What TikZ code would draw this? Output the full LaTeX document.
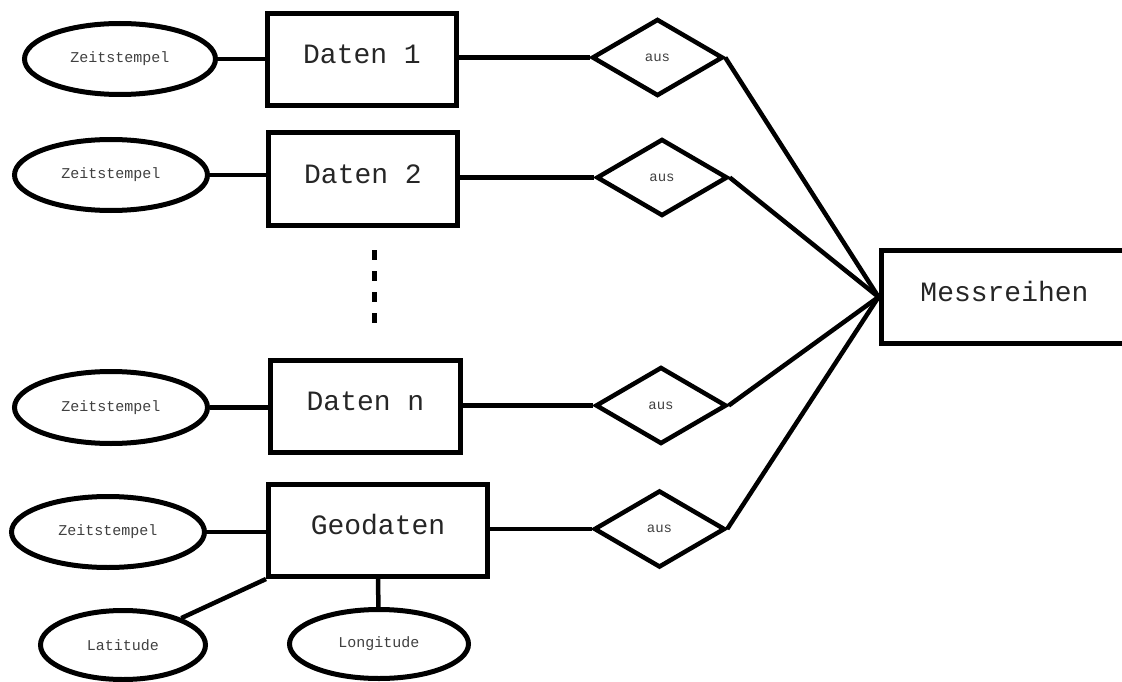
\documentclass[tikz,border=0pt]{standalone}
\usepackage{fontspec}
\setmainfont{Liberation Mono}
\usetikzlibrary{shapes.geometric}
\tikzset{
  ent/.style={draw, rectangle, line width=5pt, inner sep=0pt, font=\fontsize{28}{30}\selectfont, text=black!85,
    text height=17pt, text depth=9pt, minimum height=92pt},
  attr/.style={draw, ellipse, line width=5pt, inner sep=0pt, font=\fontsize{15}{16}\selectfont, text=black!75},
  rel/.style={draw, diamond, line width=4.5pt, inner sep=0pt, aspect=1.7, minimum width=131pt, minimum height=77pt,
    font=\fontsize{14}{15}\selectfont, text=black!75},
  link/.style={line width=4.5pt},
  dotsline/.style={line width=5pt, dash pattern=on 10pt off 11pt}
}
\begin{document}
\begin{tikzpicture}[x=1pt,y=-1pt]
\useasboundingbox (0,0) rectangle (1122,682);
\clip (0,0) rectangle (1122,682);
% entities
\node[ent, minimum width=189pt] (d1) at (362,59.5) {Daten 1};
\node[ent, minimum width=189pt] (d2) at (363,179) {Daten 2};
\node[ent, minimum width=190pt] (dn) at (365.5,406.5) {Daten n};
\node[ent, minimum width=219pt] (geo) at (378,530.5) {Geodaten};
\node[ent, minimum width=247pt, minimum height=93pt] (mr) at (1004.5,297) {Messreihen};
% attributes
\node[attr, minimum width=191pt, minimum height=71pt] (z1) at (120,59) {Zeitstempel};
\node[attr, minimum width=193pt, minimum height=71pt] (z2) at (111,175) {Zeitstempel};
\node[attr, minimum width=193pt, minimum height=72pt] (zn) at (111,407.5) {Zeitstempel};
\node[attr, minimum width=193pt, minimum height=71pt] (z4) at (108,532) {Zeitstempel};
\node[attr, minimum width=165pt, minimum height=69pt] (lat) at (123,645) {Latitude};
\node[attr, minimum width=179pt, minimum height=69pt] (lon) at (379,644) {Longitude};
% relationships
\node[rel] (a1) at (657.5,57.5) {aus};
\node[rel] (a2) at (662,177.5) {aus};
\node[rel] (a3) at (661,405.5) {aus};
\node[rel] (a4) at (659.5,529) {aus};
% attribute links
\draw[link] (z1) -- (z1 -| d1.west);
\draw[link] (z2) -- (z2 -| d2.west);
\draw[link] (zn) -- (zn -| dn.west);
\draw[link] (z4) -- (z4 -| geo.west);
\draw[link] (geo.south west) -- (lat);
\draw[link] (geo.south) -- (lon);
% relationship links
\draw[link] (d1.east |- a1) -- (a1.west);
\draw[link] (d2.east |- a2) -- (a2.west);
\draw[link] (dn.east |- a3) -- (a3.west);
\draw[link] (geo.east |- a4) -- (a4.west);
\draw[link] (a1.east) -- (mr.west);
\draw[link] (a2.east) -- (mr.west);
\draw[link] (a3.east) -- (mr.west);
\draw[link] (a4.east) -- (mr.west);
% dots
\coordinate (dtop) at (374,250);
\coordinate (dbot) at (374,323);
\draw[dotsline] (dtop) -- (dbot);
\end{tikzpicture}
\end{document}
